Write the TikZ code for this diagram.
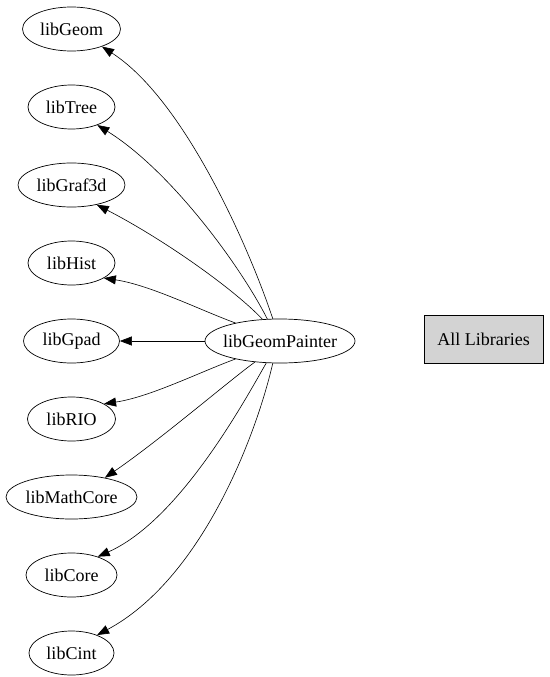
\documentclass[tikz,border=0pt]{standalone}
\usepackage{fontspec}
\setmainfont{Liberation Serif}
\usetikzlibrary{shapes.geometric,arrows.meta}
\definecolor{lgray}{HTML}{D3D3D3}
\begin{document}
\begin{tikzpicture}[x=1pt,y=-1pt,
  lib/.style={draw,ellipse,line width=0.7pt,inner sep=0pt,minimum height=44pt,font=\fontsize{18}{20}\selectfont},
  box/.style={draw,rectangle,fill=lgray,line width=0.7pt,inner sep=0pt,minimum width=119pt,minimum height=48pt,font=\fontsize{18}{20}\selectfont},
  dep/.style={line width=0.6pt,-{Triangle[length=12pt,width=9pt]}}]
\useasboundingbox (0,0) rectangle (549,677);
\node[lib,minimum width=98pt]  (geom)   at (71.5,29)  {libGeom};
\node[lib,minimum width=87pt]  (tree)   at (71.5,107) {libTree};
\node[lib,minimum width=107pt] (graf)   at (71.5,185) {libGraf3d};
\node[lib,minimum width=87pt]  (hist)   at (71.5,263) {libHist};
\node[lib,minimum width=96pt]  (gpad)   at (71.5,341) {libGpad};
\node[lib,minimum width=88pt]  (rio)    at (71.5,419) {libRIO};
\node[lib,minimum width=131pt] (math)   at (71.5,497) {libMathCore};
\node[lib,minimum width=91pt]  (core)   at (71.5,575) {libCore};
\node[lib,minimum width=85pt]  (cint)   at (71.5,653) {libCint};
\node[lib,minimum width=150pt,inner xsep=-4pt] (painter) at (280,341) {libGeomPainter};
\node[box] (all) at (483.5,339) {All Libraries};
\draw[dep] (painter.108) .. controls (250,250) and (185,100) .. (geom.-30);
\draw[dep] (painter.120) .. controls (240,265) and (170,170) .. (tree.-35);
\draw[dep] (painter.129) .. controls (235,290) and (165,240) .. (graf.-38);
\draw[dep] (painter.158) .. controls (200,310) and (150,285) .. (hist.-25);
\draw[dep] (painter.west) -- (gpad.east);
\draw[dep] (painter.202) .. controls (200,372) and (150,397) .. (rio.25);
\draw[dep] (painter.220) .. controls (230,380) and (160,440) .. (math.30);
\draw[dep] (painter.238) .. controls (245,400) and (180,520) .. (core.35);
\draw[dep] (painter.252) .. controls (255,440) and (200,580) .. (cint.35);
\end{tikzpicture}
\end{document}
